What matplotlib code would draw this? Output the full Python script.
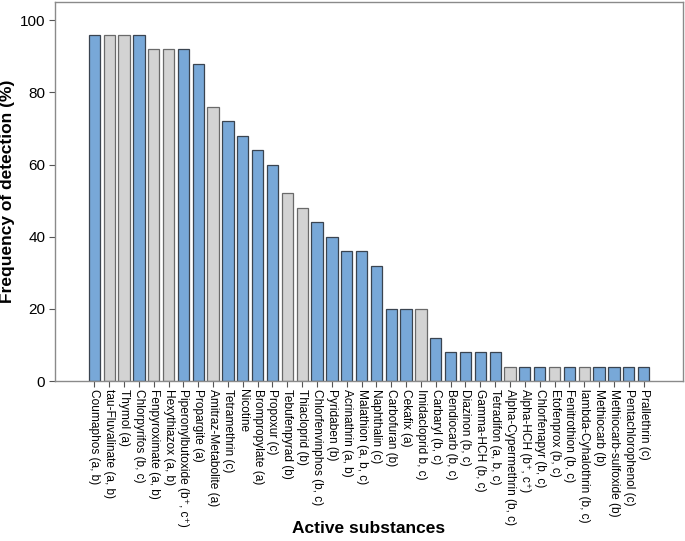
import matplotlib
matplotlib.use("Agg")
import matplotlib.pyplot as plt

plt.rcParams["font.family"] = ["Liberation Sans", "DejaVu Sans"]

# Substâncias ativas e frequência de detecção (%)
substances = [
    "Coumaphos (a, b)", "tau-Fluvalinate (a, b)", "Thymol (a)", "Chlorpyrifos (b, c)",
    "Fenpyroximate (a, b)", "Hexythiazox (a, b)", "Piperonylbutoxide (b⁺, c⁺)",
    "Propargite (a)", "Amitraz-Metabolite (a)", "Tetramethrin (c)", "Nicotine",
    "Brompropylate (a)", "Propoxur (c)", "Tebufenpyrad (b)", "Thiacloprid (b)",
    "Chlorfenvinphos (b, c)", "Pyridaben (b)", "Acrinathrin (a, b)",
    "Malathion (a, b, c)", "Naphthalin (c)", "Carbofuran (b)", "Cekafix (a)",
    "Imidacloprid b, c)", "Carbaryl (b, c)", "Bendiocarb (b, c)", "Diazinon (b, c)",
    "Gamma-HCH (b, c)", "Tetradifon (a, b, c)", "Alpha-Cypermethrin (b, c)",
    "Alpha-HCH (b⁺, c⁺)", "Chlorfenapyr (b, c)", "Etofenprox (b, c)",
    "Fenitrothion (b, c)", "lambda-Cyhalothrin (b, c)", "Methiocarb (b)",
    "Methiocarb-sulfoxide (b)", "Pentachlorophenol (c)", "Prallethrin (c)",
]
frequency = [
    96, 96, 96, 96, 92, 92, 92, 88, 76, 72, 68, 64, 60, 52, 48, 44, 40, 36, 36, 32,
    20, 20, 20, 12, 8, 8, 8, 8, 4, 4, 4, 4, 4, 4, 4, 4, 4, 4,
]
# b = azul, g = cinza
group = [
    "b", "g", "g", "b", "g", "g", "b", "b", "g", "b", "b", "b", "b", "g", "g", "b",
    "b", "b", "b", "b", "b", "b", "g", "b", "b", "b", "b", "b", "g", "b", "b", "g",
    "b", "g", "b", "b", "b", "b",
]

colors = {"b": "#78a8d8", "g": "#d3d3d3"}
edges = {"b": "#3a4450", "g": "#6a6a6a"}

fig = plt.figure(figsize=(6.85, 5.41), dpi=100)
ax = fig.add_axes([0.0803, 0.2957, 0.9167, 0.7003])

x = list(range(len(substances)))
ax.bar(
    x,
    frequency,
    width=0.76,
    color=[colors[g] for g in group],
    edgecolor=[edges[g] for g in group],
    linewidth=0.9,
)

ax.set_xlim(-2.65, len(substances) - 1 + 2.65)
ax.set_ylim(0, 105)
ax.set_yticks([0, 20, 40, 60, 80, 100])
ax.set_xticks(x)
ax.set_xticklabels(substances, rotation=-90, fontsize=8.6, va="top", ha="center")

for s in ax.spines.values():
    s.set_color("#8a8a8a")
    s.set_linewidth(1.0)

ax.tick_params(axis="y", labelsize=11, length=4, color="#555555", pad=3)
ax.tick_params(axis="x", length=4, color="#555555", pad=1.5)

ax.set_ylabel("Frequency of detection (%)", fontsize=12.5, fontweight="bold")
ax.yaxis.set_label_coords(-0.064, 0.5)
ax.set_xlabel("Active substances", fontsize=12.5, fontweight="bold")
ax.xaxis.set_label_coords(0.5, -0.37)

fig.savefig("out.png", dpi=100)
